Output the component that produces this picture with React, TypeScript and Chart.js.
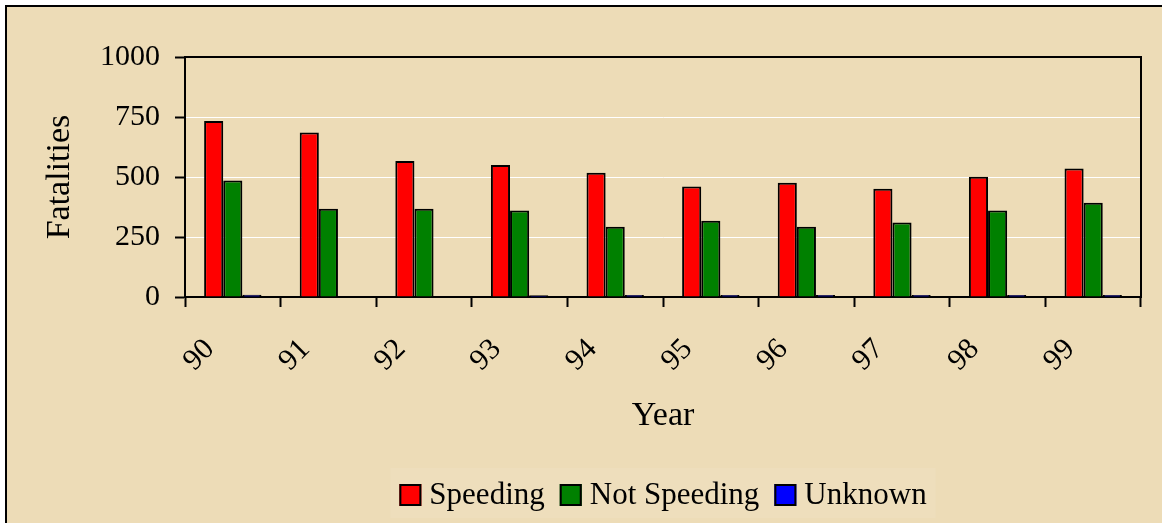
import React, { useEffect, useRef } from "react";
import { Chart, registerables } from "chart.js";

Chart.register(...registerables);

const years = ["90", "91", "92", "93", "94", "95", "96", "97", "98", "99"];
const speeding = [733, 685, 567, 550, 518, 460, 476, 451, 501, 535];
const notSpeeding = [485, 368, 368, 360, 293, 318, 293, 310, 360, 393];
const unknown = [9, 3, 3, 7, 8, 8, 8, 8, 8, 8];
const yMin = 0;
const yMax = 1000;
const yStep = 250;

const SERIF = '"Liberation Serif", "Times New Roman", serif';

const legendPlugin = {
  id: "customLegend",
  afterDraw(chart: any) {
    const ctx = chart.ctx as CanvasRenderingContext2D;
    ctx.save();
    ctx.font = `31px ${SERIF}`;
    const box = 22;
    const gapText = 8;
    const gapItem = 15;
    const items = chart.data.datasets.map((ds: any) => ({
      text: ds.label as string,
      color: ds.backgroundColor as string,
      w: ctx.measureText(ds.label).width,
    }));
    const total =
      items.reduce((s: number, it: any) => s + box + gapText + it.w, 0) +
      gapItem * (items.length - 1);
    const area = chart.chartArea;
    const cx = (area.left + area.right) / 2;
    const cy = 488;
    let x = cx - total / 2;
    ctx.fillStyle = "rgba(255,255,255,0.08)";
    ctx.fillRect(x - 9, cy - 27, total + 18, 50);
    ctx.textBaseline = "middle";
    ctx.textAlign = "left";
    for (const it of items) {
      ctx.fillStyle = it.color;
      ctx.fillRect(x, cy - box / 2, box, box);
      ctx.lineWidth = 2;
      ctx.strokeStyle = "#000";
      ctx.strokeRect(x + 1, cy - box / 2 + 1, box - 2, box - 2);
      ctx.fillStyle = "#000";
      ctx.fillText(it.text, x + box + gapText, cy + 1);
      x += box + gapText + it.w + gapItem;
    }
    ctx.restore();
  },
};

const framePlugin = {
  id: "plotFrame",
  afterDraw(chart: any) {
    const { ctx, chartArea } = chart;
    ctx.save();
    ctx.strokeStyle = "#000";
    ctx.lineWidth = 2;
    ctx.beginPath();
    ctx.moveTo(chartArea.left, chartArea.top);
    ctx.lineTo(chartArea.right, chartArea.top);
    ctx.lineTo(chartArea.right, chartArea.bottom);
    ctx.stroke();
    ctx.restore();
  },
};

export default function App() {
  const ref = useRef<HTMLCanvasElement | null>(null);

  useEffect(() => {
    if (!ref.current) return;
    Chart.defaults.font.family = SERIF;
    const barStyle = {
      borderColor: "#000000",
      borderWidth: 2,
      categoryPercentage: 0.6,
      barPercentage: 1.0,
    };
    const chart = new Chart(ref.current, {
      type: "bar",
      data: {
        labels: years,
        datasets: [
          { label: "Speeding", data: speeding, backgroundColor: "#FF0000", ...barStyle },
          { label: "Not Speeding", data: notSpeeding, backgroundColor: "#008000", ...barStyle },
          { label: "Unknown", data: unknown, backgroundColor: "#0000FF", ...barStyle },
        ],
      },
      options: {
        responsive: false,
        animation: false,
        layout: { padding: { left: 36, right: 21, top: 50, bottom: 90 } },
        plugins: {
          legend: { display: false },
          tooltip: { enabled: false },
        },
        scales: {
          x: {
            grid: {
              offset: true,
              drawOnChartArea: false,
              drawTicks: true,
              tickLength: 10,
              tickColor: "#000",
              tickWidth: 2,
            },
            border: { display: true, color: "#000", width: 2 },
            ticks: {
              color: "#000",
              font: { size: 30, lineHeight: 1 },
              minRotation: 45,
              maxRotation: 45,
              labelOffset: -23,
              padding: 27,
              autoSkip: false,
            },
            title: {
              display: true,
              text: "Year",
              color: "#000",
              font: { size: 34, lineHeight: 1 },
              padding: 0,
            },
            afterFit: (scale: any) => {
              scale.height = 136;
            },
          },
          y: {
            min: yMin,
            max: yMax,
            grid: {
              color: "#FFFFFF",
              lineWidth: 1,
              tickLength: 10,
              tickColor: "#000",
              tickWidth: 2,
            },
            border: { display: true, color: "#000", width: 2 },
            ticks: {
              stepSize: yStep,
              color: "#000",
              font: { size: 30, lineHeight: 1 },
              padding: 15,
              callback: (v: any) => String(v),
            },
            title: {
              display: true,
              text: "Fatalities",
              color: "#000",
              font: { size: 34, lineHeight: 1 },
              padding: 0,
            },
            afterFit: (scale: any) => {
              scale.width = 142;
            },
          },
        },
      },
      plugins: [framePlugin, legendPlugin],
    });
    return () => chart.destroy();
  }, []);

  return (
    <div
      style={{
        position: "fixed",
        left: 5,
        top: 5,
        right: 0,
        bottom: 0,
        borderLeft: "2px solid #000",
        borderTop: "2px solid #000",
        background: "#EDDCB7",
        overflow: "hidden",
      }}
    >
      <canvas ref={ref} width={1155} height={516} style={{ display: "block" }} />
    </div>
  );
}
